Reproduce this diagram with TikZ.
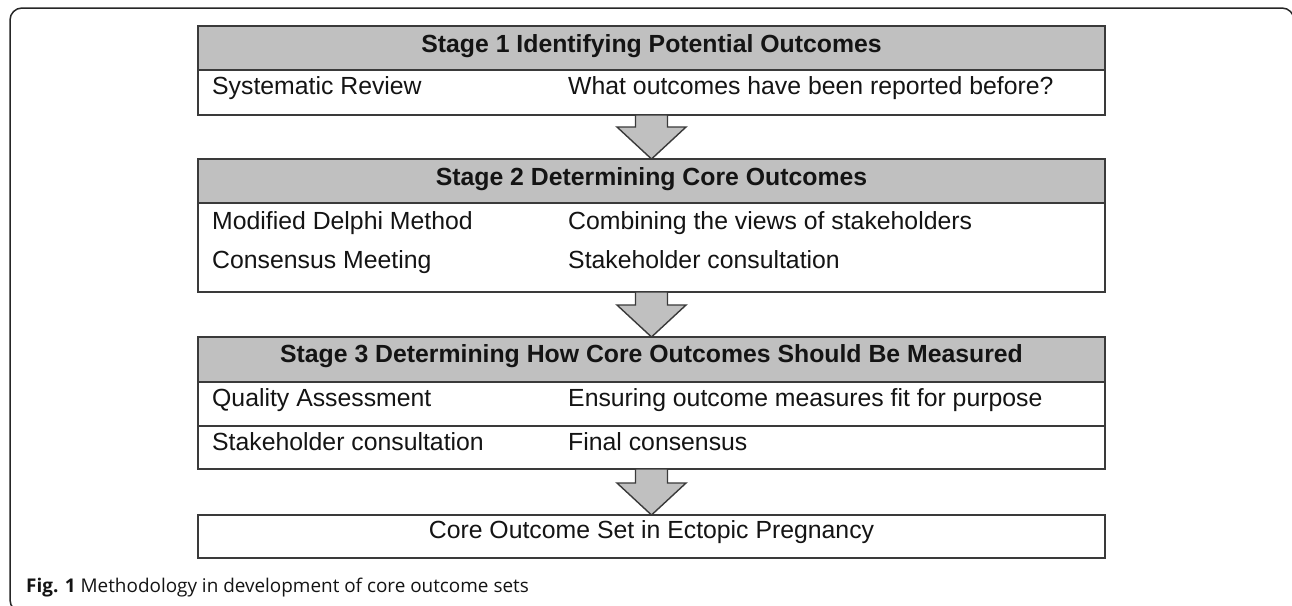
\documentclass[tikz,border=0pt]{standalone}
\usepackage{fontspec}
\setmainfont{Liberation Sans}
\newfontfamily\capfont{Open Sans}
\usetikzlibrary{calc}
\definecolor{hdrgray}{HTML}{C0C0C0}
\definecolor{edge}{HTML}{3A3A3A}
\definecolor{ink}{HTML}{141414}

% block arrow from the bottom of one box to the top of the next
\newcommand{\stagearrow}[2]{%
  \draw[flow] let \p1=(#1.south), \p2=(#2.north) in
    ({\x1-16pt},\y1) -- ({\x1-16pt},{\y2+32pt}) -- ({\x1-34.5pt},{\y2+32pt})
    -- (\x1,\y2) -- ({\x1+34.5pt},{\y2+32pt}) -- ({\x1+16pt},{\y2+32pt})
    -- ({\x1+16pt},\y1) -- cycle;}

\begin{document}
\begin{tikzpicture}[x=1pt,y=-1pt,
  panel/.style={draw=edge, line width=1.4pt, minimum width=907pt,
    anchor=north west, inner sep=0pt, outer sep=0pt},
  header/.style={panel, fill=hdrgray},
  label/.style={font=\fontsize{24.8}{28}\selectfont, text=ink,
    inner sep=0pt, anchor=base west},
  headtxt/.style={font=\fontsize{24.8}{28}\selectfont\bfseries, text=ink,
    inner sep=0pt, anchor=base},
  flow/.style={draw=edge, line width=1.4pt, fill=hdrgray, line join=miter}
]
\useasboundingbox (0,0) rectangle (1292,605);
\fill[white] (0,0) rectangle (1292,605);

% page frame
\draw[black!85, line width=1.5pt, rounded corners=12pt]
  (40,612) -- (10,612) -- (10,8) -- (1294,8) -- (1294,612);

% stage 1
\node[header, minimum height=44pt] (s1h) at (198,26) {};
\node[panel, minimum height=45pt] (s1b) at (198,70) {};
\node[headtxt] (t1) at (651.5,52) {Stage 1 Identifying Potential Outcomes};
\node[label] (s1l) at (212,94) {Systematic Review};
\node[label] (s1r) at (568,94) {What outcomes have been reported before?};

% stage 2
\node[header, minimum height=44pt] (s2h) at (198,159) {};
\node[panel, minimum height=89pt] (s2b) at (198,203) {};
\node[headtxt] (t2) at (651.5,185) {Stage 2 Determining Core Outcomes};
\node[label] (s2l1) at (212,229) {Modified Delphi Method};
\node[label] (s2r1) at (568,229) {Combining the views of stakeholders};
\node[label] (s2l2) at (212,268) {Consensus Meeting};
\node[label] (s2r2) at (568,268) {Stakeholder consultation};

% stage 3
\node[header, minimum height=45pt] (s3h) at (198,337) {};
\node[panel, minimum height=44pt] (s3a) at (198,382) {};
\node[panel, minimum height=43pt] (s3b) at (198,426) {};
\node[headtxt] (t3) at (651.5,362) {Stage 3 Determining How Core Outcomes Should Be Measured};
\node[label] (s3l1) at (212,406) {Quality Assessment};
\node[label] (s3r1) at (568,406) {Ensuring outcome measures fit for purpose};
\node[label] (s3l2) at (212,450) {Stakeholder consultation};
\node[label] (s3r2) at (568,450) {Final consensus};

% result
\node[panel, minimum height=43pt] (fin) at (198,515) {};
\node[label, anchor=base] (fint) at (651.5,538) {Core Outcome Set in Ectopic Pregnancy};

% arrows between stages
\stagearrow{s1b}{s2h}
\stagearrow{s2b}{s3h}
\stagearrow{s3b}{fin}

% caption
\node[anchor=base west, inner sep=0pt, text=ink,
  font=\capfont\fontsize{18.9}{22}\selectfont] (cap) at (26,592)
  {\textbf{Fig. 1} Methodology in development of core outcome sets};
\end{tikzpicture}
\end{document}
